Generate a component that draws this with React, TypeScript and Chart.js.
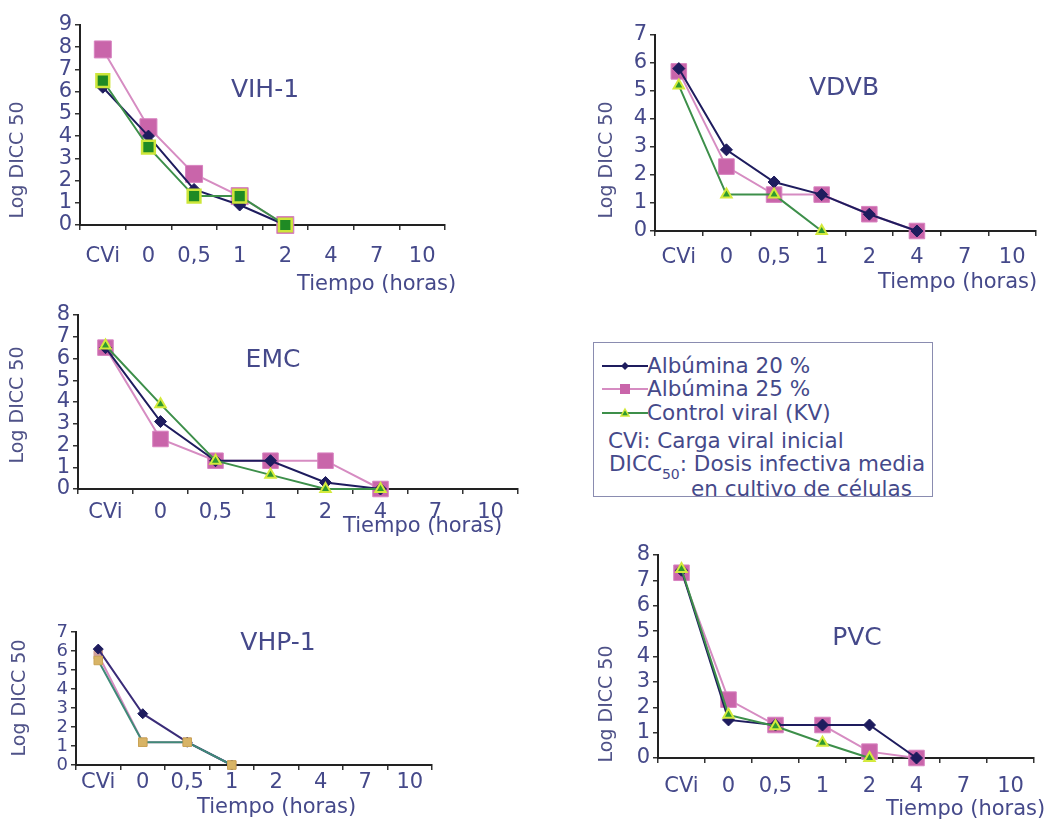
import React, { useEffect, useRef } from "react";
import { Chart, registerables } from "chart.js";

Chart.register(...registerables);

// ---------- data ----------
const categories = ["CVi", "0", "0,5", "1", "2", "4", "7", "10"];
const seriesNames = ["Albúmina 20 %", "Albúmina 25 %", "Control viral (KV)"];
const panelNames = ["VIH-1", "VDVB", "EMC", "VHP-1", "PVC"];
const yAxisMax = [9, 7, 8, 7, 8];

const vih1Alb20 = [6.2, 4.0, 1.6, 0.9, 0];
const vih1Alb25 = [7.9, 4.4, 2.3, 1.3, 0];
const vih1Control = [6.5, 3.5, 1.3, 1.3, 0];

const vdvbAlb20 = [5.8, 2.9, 1.75, 1.3, 0.6, 0];
const vdvbAlb25 = [5.7, 2.3, 1.3, 1.3, 0.6, 0];
const vdvbControl = [5.2, 1.3, 1.3, 0];

const emcAlb20 = [6.5, 3.1, 1.3, 1.3, 0.3, 0];
const emcAlb25 = [6.5, 2.3, 1.3, 1.3, 1.3, 0];
const emcControl = [6.6, 3.9, 1.3, 0.65, 0, 0];

const vhp1Alb20 = [6.1, 2.7, 1.2, 0];
const vhp1Alb25 = [5.8, 1.2, 1.2, 0];
const vhp1Control = [5.5, 1.2, 1.2, 0];

const pvcAlb20 = [7.4, 1.5, 1.3, 1.3, 1.3, 0];
const pvcAlb25 = [7.3, 2.3, 1.3, 1.3, 0.25, 0];
const pvcControl = [7.45, 1.7, 1.25, 0.6, 0];

// ---------- styles ----------
const FONT = '"DejaVu Sans", Verdana, sans-serif';
const TEXT = "#45498a";
const AXIS = "#222";

const NAVY = "#1e1c5e";
const PINK_LINE = "#d68cc2";
const PINK_FILL = "#c965aa";
const GREEN_LINE = "#3d8f4a";
const GREEN_FILL = "#2f9a2f";
const YELLOW = "#d4ea3c";

type Layout = {
  left: number; right: number; top: number; bottom: number;
  titleX: number; titleY: number;
  xTitleX: number; xTitleY: number;
  yTitleX: number; yTitleY: number;
  tickPad: number; yFont: number;
  variant: "vih" | "std" | "vhp";
};

const layouts: Layout[] = [
  { left: 80, right: 445, top: 25, bottom: 225, titleX: 265, titleY: 90, xTitleX: 297, xTitleY: 285, yTitleX: 18, yTitleY: 160, tickPad: 14, yFont: 21, variant: "vih" },
  { left: 655, right: 1036, top: 35, bottom: 231, titleX: 844, titleY: 88, xTitleX: 878, xTitleY: 283, yTitleX: 607, yTitleY: 160, tickPad: 9, yFont: 21, variant: "std" },
  { left: 78, right: 518, top: 315, bottom: 489, titleX: 273, titleY: 360, xTitleX: 343, xTitleY: 527, yTitleX: 18, yTitleY: 405, tickPad: 6, yFont: 21, variant: "std" },
  { left: 76, right: 432, top: 632, bottom: 765, titleX: 278, titleY: 643, xTitleX: 197, xTitleY: 808, yTitleX: 20, yTitleY: 698, tickPad: 0, yFont: 18, variant: "vhp" },
  { left: 658, right: 1034, top: 555, bottom: 758, titleX: 857, titleY: 638, xTitleX: 886, xTitleY: 810, yTitleX: 607, yTitleY: 704, tickPad: 11, yFont: 21, variant: "std" },
];

const panelSeries = [
  [vih1Alb20, vih1Alb25, vih1Control],
  [vdvbAlb20, vdvbAlb25, vdvbControl],
  [emcAlb20, emcAlb25, emcControl],
  [vhp1Alb20, vhp1Alb25, vhp1Control],
  [pvcAlb20, pvcAlb25, pvcControl],
];

const PAD_L = 75, PAD_T = 20, PAD_R = 30, PAD_B = 70;

function datasetStyles(variant: Layout["variant"]) {
  const a20: any = {
    borderColor: NAVY, backgroundColor: NAVY, pointBackgroundColor: NAVY, pointBorderColor: NAVY,
    pointStyle: "rectRot", pointRadius: 6, pointBorderWidth: 1, borderWidth: 2, order: 1,
  };
  const a25: any = {
    borderColor: PINK_LINE, backgroundColor: PINK_FILL, pointBackgroundColor: PINK_FILL, pointBorderColor: "#d883c0",
    pointStyle: "rect", pointRadius: variant === "vih" ? 12 : 11, pointBorderWidth: 1, borderWidth: 2, order: 2,
  };
  const ctl: any = {
    borderColor: GREEN_LINE, backgroundColor: GREEN_FILL, pointBackgroundColor: GREEN_FILL, pointBorderColor: YELLOW,
    pointStyle: "triangle", pointRadius: 6, pointBorderWidth: 2, borderWidth: 2, order: 0,
  };
  if (variant === "vih") {
    ctl.pointStyle = "rect";
    ctl.pointRadius = 9;
    ctl.pointBackgroundColor = "#1f8a24";
    ctl.pointBorderColor = "#cde63a";
    ctl.pointBorderWidth = 2.5;
  }
  if (variant === "vhp") {
    a20.pointRadius = 5;
    a20.borderColor = "#3a2c78";
    a25.pointRadius = 6;
    a25.pointBackgroundColor = "#d0a0a0";
    a25.pointBorderColor = "#d2a090";
    ctl.pointStyle = "rect";
    ctl.pointRadius = 6;
    ctl.pointBackgroundColor = "#d8b466";
    ctl.pointBorderColor = "#caa455";
    ctl.pointBorderWidth = 1;
    ctl.borderColor = "#3f8a78";
  }
  return [a20, a25, ctl];
}

const panelTextPlugin = {
  id: "panelText",
  afterDraw(chart: any, _args: any, opts: any) {
    const { ctx } = chart;
    const ox = opts.originX, oy = opts.originY;
    ctx.save();
    ctx.fillStyle = TEXT;
    ctx.textBaseline = "middle";
    ctx.font = `25px ${FONT}`;
    ctx.textAlign = "center";
    ctx.fillText(opts.title, opts.titleX - ox, opts.titleY - oy);
    ctx.font = `21px ${FONT}`;
    ctx.textAlign = "left";
    ctx.fillText("Tiempo (horas)", opts.xTitleX - ox, opts.xTitleY - oy);
    ctx.translate(opts.yTitleX - ox, opts.yTitleY - oy);
    ctx.rotate(-Math.PI / 2);
    ctx.textAlign = "center";
    ctx.fillStyle = "#4f5288";
    ctx.font = `19px ${FONT}`;
    ctx.fillText("Log DICC 50", 0, 0);
    ctx.restore();
  },
};

function Panel({ index }: { index: number }) {
  const ref = useRef<HTMLCanvasElement>(null);
  const lay = layouts[index];
  const cLeft = lay.left - PAD_L;
  const cTop = lay.top - PAD_T;
  const w = lay.right - lay.left + PAD_L + PAD_R;
  const h = lay.bottom - lay.top + PAD_T + PAD_B;

  useEffect(() => {
    if (!ref.current) return;
    const styles = datasetStyles(lay.variant);
    const chart = new Chart(ref.current, {
      type: "line",
      data: {
        labels: categories,
        datasets: panelSeries[index].map((vals, i) => ({
          label: seriesNames[i],
          data: vals,
          tension: 0,
          fill: false,
          clip: false as any,
          ...(styles[i] as any),
        })),
      },
      options: {
        responsive: false,
        animation: false,
        devicePixelRatio: 1,
        events: [],
        layout: { padding: { left: 0, top: PAD_T, right: PAD_R, bottom: 0 } },
        plugins: {
          legend: { display: false },
          tooltip: { enabled: false },
          title: { display: false },
          panelText: {
            originX: cLeft, originY: cTop,
            title: panelNames[index],
            titleX: lay.titleX, titleY: lay.titleY,
            xTitleX: lay.xTitleX, xTitleY: lay.xTitleY,
            yTitleX: lay.yTitleX, yTitleY: lay.yTitleY,
          },
        } as any,
        scales: {
          x: {
            type: "category",
            offset: true,
            afterFit: (s: any) => { s.height = PAD_B; },
            grid: { offset: true, drawOnChartArea: false, drawTicks: true, tickLength: 5, color: "#333", lineWidth: 1.5 },
            border: { display: true, color: AXIS, width: 2 },
            ticks: { font: { family: FONT, size: 21 }, color: TEXT, padding: lay.tickPad, maxRotation: 0, autoSkip: false },
          },
          y: {
            min: 0,
            max: yAxisMax[index],
            afterFit: (s: any) => { s.width = PAD_L; },
            grid: { drawOnChartArea: false, drawTicks: true, tickLength: 5, color: "#333", lineWidth: 1.5 },
            border: { display: true, color: AXIS, width: 2 },
            ticks: { stepSize: 1, autoSkip: false, font: { family: FONT, size: lay.yFont }, color: TEXT, padding: 3 },
          },
        },
      },
      plugins: [panelTextPlugin],
    } as any);
    return () => chart.destroy();
  }, []);

  return (
    <canvas
      ref={ref}
      width={w}
      height={h}
      style={{ position: "absolute", left: cLeft, top: cTop, width: w, height: h }}
    />
  );
}

function LegendSample({ index }: { index: number }) {
  const line = [NAVY, PINK_LINE, GREEN_LINE][index];
  return (
    <svg width={46} height={14} style={{ position: "absolute", left: 8, top: -7 }}>
      <line x1={0} y1={7} x2={46} y2={7} stroke={line} strokeWidth={2} />
      {index === 0 && <polygon points="23,3 27,7 23,11 19,7" fill={NAVY} />}
      {index === 1 && <rect x={18} y={2} width={10} height={10} fill={PINK_FILL} />}
      {index === 2 && <polygon points="23,3 27,10 19,10" fill={GREEN_FILL} stroke={YELLOW} strokeWidth={1.5} />}
    </svg>
  );
}

function Legend() {
  const rowY = [23, 46, 70];
  const textStyle: React.CSSProperties = {
    position: "absolute", fontFamily: FONT, fontSize: 21.5, color: TEXT, whiteSpace: "nowrap", lineHeight: "24px",
  };
  return (
    <div
      style={{
        position: "absolute", left: 593, top: 342, width: 340, height: 155,
        border: "1.5px solid #8a8cb0", boxSizing: "border-box", background: "#fff",
      }}
    >
      {seriesNames.map((name, i) => (
        <div key={name} style={{ position: "absolute", left: 0, top: rowY[i] }}>
          <LegendSample index={i} />
          <span style={{ ...textStyle, left: 53, top: -12 }}>{name}</span>
        </div>
      ))}
      <span style={{ ...textStyle, left: 14, top: 98 - 12 }}>CVi: Carga viral inicial</span>
      <span style={{ ...textStyle, left: 15, top: 121 - 12 }}>
        DICC<sub style={{ fontSize: 14, verticalAlign: -8, lineHeight: 0 }}>50</sub>: Dosis infectiva media
      </span>
      <span style={{ ...textStyle, left: 97, top: 146 - 12 }}>en cultivo de células</span>
    </div>
  );
}

export default function App() {
  return (
    <div
      style={{
        position: "fixed", left: 0, top: 0, width: 1055, height: 821,
        overflow: "hidden", background: "#fff",
      }}
    >
      {layouts.map((_, i) => (
        <Panel key={i} index={i} />
      ))}
      <Legend />
    </div>
  );
}
